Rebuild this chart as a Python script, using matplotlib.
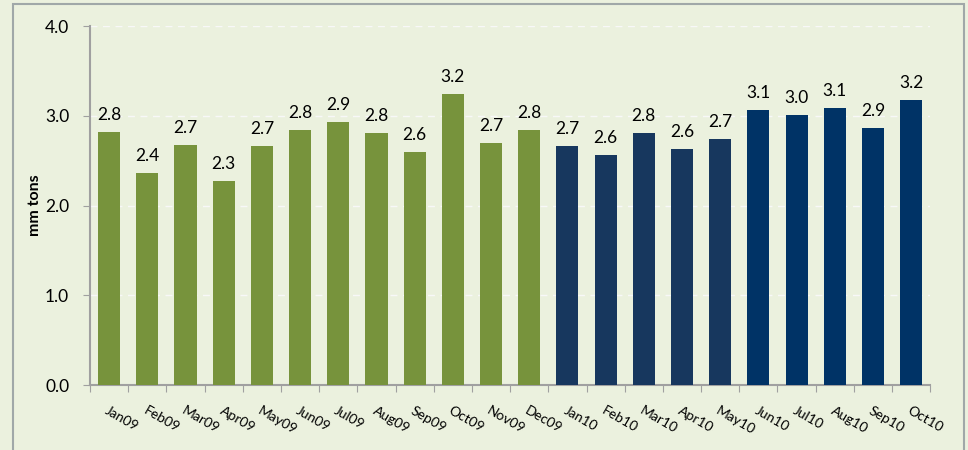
import matplotlib
matplotlib.use("Agg")
import matplotlib.pyplot as plt
from matplotlib.patches import Rectangle
import numpy as np

plt.rcParams['font.family'] = ['Lato', 'DejaVu Sans']

# datos
meses = ["Jan09", "Feb09", "Mar09", "Apr09", "May09", "Jun09", "Jul09", "Aug09",
         "Sep09", "Oct09", "Nov09", "Dec09", "Jan10", "Feb10", "Mar10", "Apr10",
         "May10", "Jun10", "Jul10", "Aug10", "Sep10", "Oct10"]
valores = [2.82, 2.36, 2.67, 2.27, 2.66, 2.84, 2.93, 2.81, 2.60, 3.24, 2.70, 2.84,
           2.66, 2.56, 2.81, 2.63, 2.74, 3.06, 3.01, 3.09, 2.86, 3.18]
colores = ["#77933c"] * 12 + ["#17375e"] * 5 + ["#003366"] * 5

fondo = "#ebf1de"
fig = plt.figure(figsize=(9.68, 4.5), dpi=100, facecolor=fondo)
fig.patches.append(Rectangle((13 / 968, -0.1), 951 / 968, 1.1 - 4 / 450,
                             transform=fig.transFigure, fill=False,
                             edgecolor="#a0a8a8", linewidth=1.5))
ax = fig.add_axes([0.093, 0.1444, 0.868, 0.7976])
ax.set_facecolor(fondo)

x = np.arange(len(meses))
ax.bar(x, valores, width=0.58, color=colores, zorder=3)
for xi, v in zip(x, valores):
    ax.text(xi, v + 0.1, f"{v:.1f}", ha="center", va="bottom", fontsize=12.5)

ax.set_xlim(-0.5, len(meses) - 0.5)
ax.set_ylim(0, 4.0)
ax.set_yticks([0, 1, 2, 3, 4])
ax.set_yticklabels([f"{t:.1f}" for t in [0, 1, 2, 3, 4]], fontsize=12.5)
ax.yaxis.grid(True, color="#f8f8f8", linestyle=(0, (5, 4)), linewidth=1, zorder=0)

ax.set_xticks(np.arange(-0.5, len(meses), 1.0))
ax.set_xticklabels([])
ax.set_xticks(x, minor=True)
ax.set_xticklabels(meses, minor=True, rotation=-30, ha="left", va="top",
                   rotation_mode="anchor", fontsize=10)
ax.tick_params(axis="x", which="minor", length=0, pad=14)
ax.tick_params(axis="x", which="major", length=5, color="#a0a0a0")
ax.tick_params(axis="y", length=5, color="#a0a0a0", pad=10)

for lado in ["top", "right"]:
    ax.spines[lado].set_visible(False)
for lado in ["left", "bottom"]:
    ax.spines[lado].set_color("#a0a0a0")
    ax.spines[lado].set_linewidth(1.5)

ax.set_ylabel("mm tons", fontsize=11.5, fontweight="bold")
ax.yaxis.set_label_coords(-0.057, 0.5)

fig.savefig("out.png", dpi=100, facecolor=fondo)
